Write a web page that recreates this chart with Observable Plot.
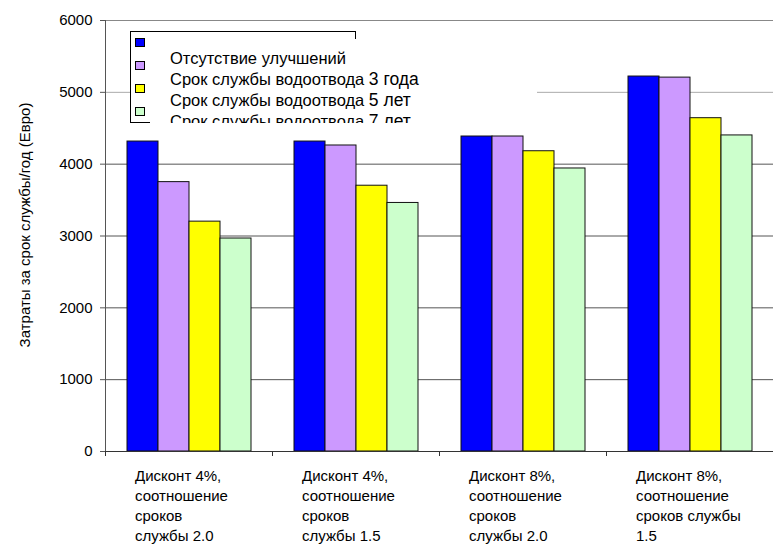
<!DOCTYPE html>
<html>
<head>
<meta charset="utf-8">
<script src="https://cdn.jsdelivr.net/npm/d3@7"></script>
<script src="https://cdn.jsdelivr.net/npm/@observablehq/plot@0.6"></script>
<style>
  body { margin: 0; background: #fff; font-family: "Liberation Sans", Arial, sans-serif; }
  #wrap { position: relative; width: 773px; height: 544px; overflow: hidden; }
</style>
</head>
<body>
<div id="wrap"></div>
<script>
// ---- data ----
const categories = [
  "Дисконт 4%,\nсоотношение\nсроков\nслужбы 2.0",
  "Дисконт 4%,\nсоотношение\nсроков\nслужбы 1.5",
  "Дисконт 8%,\nсоотношение\nсроков\nслужбы 2.0",
  "Дисконт 8%,\nсоотношение\nсроков службы\n1.5"
];
const series = [
  "Отсутствие улучшений",
  "Срок службы водоотвода 3 года",
  "Срок службы водоотвода 5 лет",
  "Срок службы водоотвода 7 лет"
];
const seriesColors = ["#0000FF", "#CC99FF", "#FFFF00", "#CCFFCC"];
const noImprovement = [4315, 4315, 4385, 5220];
const drain3years   = [3750, 4260, 4385, 5205];
const drain5years   = [3200, 3700, 4180, 4640];
const drain7years   = [2965, 3460, 3940, 4400];
const yTicks = [0, 1000, 2000, 3000, 4000, 5000, 6000];
const yTitle = "Затраты за срок службы/год (Евро)";

// ---- build table ----
const seriesValues = [noImprovement, drain3years, drain5years, drain7years];
const rows = categories.flatMap((c, j) =>
  series.map((s, i) => ({category: c, series: s, value: seriesValues[i][j]})));

// ---- layout ----
const W = 773, H = 544, mL = 105, mR = 0, mT = 20, mB = 93;
const band = (W - mL - mR) / categories.length;
const bw = 31, outer = 22;

const gridStroke = d => d === 6000 ? "#888" : d === 5000 ? "#aaa" : "#555";

const chart = Plot.plot({
  width: W, height: H,
  marginLeft: mL, marginRight: mR, marginTop: mT, marginBottom: mB,
  style: {fontFamily: "'Liberation Sans', Arial, sans-serif", fontSize: "15px", color: "#000", background: "#fff", overflow: "visible"},
  x: {domain: categories, padding: 0, axis: null},
  y: {domain: [0, 6000], axis: null},
  color: {domain: series, range: seriesColors},
  marks: [
    Plot.ruleY(yTicks.filter(t => t > 0), {y: d => d, stroke: gridStroke, strokeWidth: 1}),
    ...series.map((s, i) => Plot.barY(rows.filter(r => r.series === s), {
      x: "category", y: "value", fill: "series",
      stroke: "#111", strokeWidth: 1,
      insetLeft: outer + i * bw,
      insetRight: band - outer - (i + 1) * bw
    })),
    Plot.ruleY([0], {stroke: "#333", strokeWidth: 1}),
    Plot.frame({anchor: "left", stroke: "#555"}),
    Plot.axisY(yTicks, {tickSize: 5, tickPadding: 8, fontSize: 15, stroke: "#555", label: null, tickFormat: d => String(d)}),
    Plot.axisX({tickSize: 5, tickFormat: () => "", dx: -band / 2, stroke: "#333", label: null}),
    Plot.text(categories, {
      x: d => d, text: d => d, frameAnchor: "bottom",
      lineAnchor: "top", textAnchor: "start", lineHeight: 1.333,
      dx: -54, dy: 15, fontSize: 15, fill: "#000"
    }),
    Plot.text([yTitle], {
      text: d => d, frameAnchor: "left", textAnchor: "middle", lineAnchor: "middle", rotate: -90,
      dx: -80, dy: -11, fontSize: 15, fill: "#000"
    })
  ]
});

const wrap = document.getElementById("wrap");
wrap.appendChild(chart);

// ---- legend overlay (inside plot area, partially clipped like the original) ----
const leg = document.createElement("div");
Object.assign(leg.style, {position: "absolute", left: "130px", top: "31px", width: "407px", height: "92px",
  background: "#fff", overflow: "hidden", fontFamily: "'Liberation Sans', Arial, sans-serif", color: "#000"});
function line(l, t, w, h) {
  const d = document.createElement("div");
  Object.assign(d.style, {position: "absolute", left: l + "px", top: t + "px", width: w + "px", height: h + "px", background: "#000"});
  leg.appendChild(d);
}
line(0, 0, 226, 1); line(0, 0, 1, 92); line(225, 0, 1, 8); line(0, 91, 20, 1);
series.forEach((s, i) => {
  const sw = document.createElement("div");
  Object.assign(sw.style, {position: "absolute", left: "5px", top: (7 + i * 23) + "px", width: "10px", height: "9px",
    boxSizing: "border-box", border: "1px solid #000", background: seriesColors[i]});
  leg.appendChild(sw);
  const t = document.createElement("div");
  Object.assign(t.style, {position: "absolute", left: "40px", top: (17 + i * 21) + "px", height: "20px",
    lineHeight: "20px", fontSize: "16.5px", whiteSpace: "nowrap"});
  const m = s.match(/^(.*?)(\d.*)$/);
  if (m) {
    t.appendChild(document.createTextNode(m[1]));
    const big = document.createElement("span");
    big.style.fontSize = "17.5px";
    big.textContent = m[2];
    t.appendChild(big);
  } else {
    t.textContent = s;
  }
  leg.appendChild(t);
});
wrap.appendChild(leg);
</script>
</body>
</html>
